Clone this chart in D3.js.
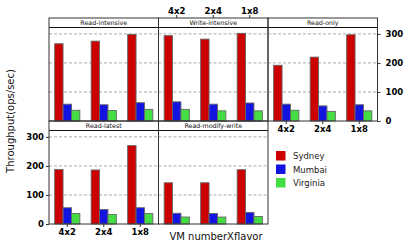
<!DOCTYPE html>
<html>
<head>
<meta charset="utf-8">
<script src="https://cdn.jsdelivr.net/npm/d3@7"></script>
<style>
  body { margin: 0; background: #fff; }
  text { font-family: "DejaVu Sans", sans-serif; }
</style>
</head>
<body>
<div id="placeholder"></div>
<script>
// Data
var flavors = ["4x2", "2x4", "1x8"];
var regions = ["Sydney", "Mumbai", "Virginia"];
var workloads = ["Read-intensive", "Write-intensive", "Read-only", "Read-latest", "Read-modify-write"];

var sydney   = [[266, 275, 298], [294, 282, 302], [192, 220, 297], [188, 186, 270], [142, 142, 187]];
var mumbai   = [[58, 56, 63],    [66, 58, 62],    [58, 52, 56],    [56, 50, 56],    [37, 36, 40]];
var virginia = [[37, 36, 40],    [40, 35, 35],    [37, 33, 35],    [36, 33, 36],    [24, 24, 26]];

var yTicks = [0, 100, 200, 300];
var colors = ["#CC0000", "#1414E0", "#44DD44"];

// Layout
var W = 415, H = 244;
var left = 49, panelW = 109.5;
var rowTop = [18, 121];
var stripH = 9.5, rowH = 103;
var plotH = rowH - stripH;

// panel position (col, row) for each workload
var cells = [[0, 0], [1, 0], [2, 0], [0, 1], [1, 1]];

var svg = d3.select("#placeholder").append("svg")
  .attr("width", W).attr("height", H);

var y = d3.scaleLinear().domain([0, 322]).range([plotH, 0]);
var x0 = d3.scaleBand().domain(flavors).range([0, panelW]).paddingInner(0.31).paddingOuter(0.155);
var x1 = d3.scaleBand().domain(regions).range([0, x0.bandwidth()]);
var color = d3.scaleOrdinal().domain(regions).range(colors);

workloads.forEach(function (w, k) {
  var col = cells[k][0], row = cells[k][1];
  var px = left + col * panelW;
  var py = rowTop[row];
  var g = svg.append("g").attr("transform", "translate(" + px + "," + py + ")");

  // strip
  g.append("text")
    .attr("x", panelW / 2).attr("y", stripH / 2 + 2.2)
    .attr("text-anchor", "middle")
    .style("font-size", "6.3px")
    .style("fill", "#111")
    .text(w);
  g.append("line")
    .attr("x1", 0).attr("x2", panelW).attr("y1", stripH).attr("y2", stripH)
    .style("stroke", "#111");

  var p = g.append("g").attr("transform", "translate(0," + stripH + ")");

  // grid
  p.selectAll(".grid").data(yTicks.slice(1)).enter().append("line")
    .attr("x1", 0).attr("x2", panelW)
    .attr("y1", function (d) { return y(d); })
    .attr("y2", function (d) { return y(d); })
    .style("stroke", "#aaa")
    .style("stroke-dasharray", "3,2");

  // bars
  var rows = flavors.map(function (f, i) {
    return {flavor: f, vals: [sydney[k][i], mumbai[k][i], virginia[k][i]]};
  });
  var grp = p.selectAll(".grp").data(rows).enter().append("g")
    .attr("transform", function (d) { return "translate(" + x0(d.flavor) + ",0)"; });
  grp.selectAll("rect").data(function (d) {
    return d.vals.map(function (v, j) { return {region: regions[j], value: v}; });
  }).enter().append("rect")
    .attr("x", function (d) { return x1(d.region); })
    .attr("width", x1.bandwidth())
    .attr("y", function (d) { return y(d.value); })
    .attr("height", function (d) { return plotH - y(d.value); })
    .style("fill", function (d) { return color(d.region); })
    .style("stroke", "#666")
    .style("stroke-width", 0.9);

  // border
  g.append("rect")
    .attr("x", 0).attr("y", 0).attr("width", panelW).attr("height", rowH)
    .style("fill", "none").style("stroke", "#333");

  // axes, lattice style
  var xa = d3.axisBottom(x0).tickSize(3).tickPadding(1.5);
  if (row === 1 && col === 0) {
    p.append("g").attr("class", "ax").attr("transform", "translate(0," + plotH + ")").call(xa);
    p.append("g").attr("class", "ax").call(d3.axisLeft(y).tickValues(yTicks).tickSize(3).tickPadding(2));
  }
  if (row === 0 && col === 2) {
    p.append("g").attr("class", "ax").attr("transform", "translate(0," + plotH + ")").call(xa);
    p.append("g").attr("class", "ax").attr("transform", "translate(" + panelW + ",0)")
      .call(d3.axisRight(y).tickValues(yTicks).tickSize(3).tickPadding(5));
  }
  if (row === 0 && col === 1) {
    g.append("g").attr("class", "ax")
      .call(d3.axisTop(x0).tickSize(3).tickPadding(1.5));
  }
});

svg.selectAll(".ax .domain").remove();
svg.selectAll(".ax text")
  .style("font-family", "DejaVu Sans")
  .style("font-size", "8.5px")
  .style("font-weight", "bold")
  .style("fill", "#000");
svg.selectAll(".ax line").style("stroke", "#333");

// axis titles
svg.append("text")
  .attr("transform", "translate(13.5,121) rotate(-90)")
  .attr("text-anchor", "middle")
  .style("font-size", "10px")
  .style("fill", "#111")
  .text("Throughput(ops/sec)");

svg.append("text")
  .attr("x", 216).attr("y", 240)
  .attr("text-anchor", "middle")
  .style("font-size", "10px")
  .style("fill", "#111")
  .text("VM numberXflavor");

// legend
var leg = svg.selectAll(".leg").data(regions).enter().append("g")
  .attr("transform", function (d, i) { return "translate(276," + (151 + i * 13.5) + ")"; });
leg.append("rect")
  .attr("width", 9.5).attr("height", 9.5)
  .style("fill", function (d) { return color(d); });
leg.append("text")
  .attr("x", 17).attr("y", 8)
  .style("font-size", "8.5px")
  .style("fill", "#222")
  .text(function (d) { return d; });
</script>
</body>
</html>
